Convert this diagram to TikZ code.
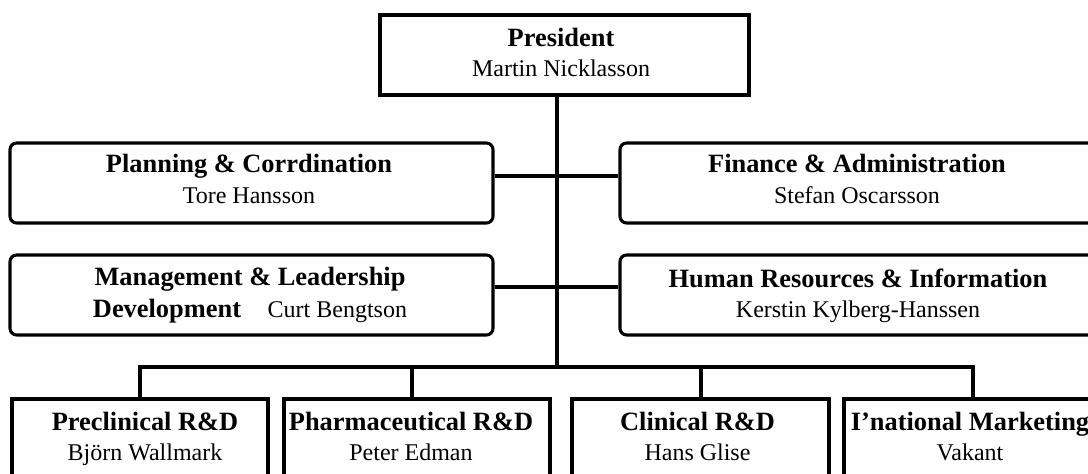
\documentclass[tikz,border=0pt]{standalone}
\usepackage{fontspec}
\setmainfont{Liberation Serif}
\usepackage{tikz}
\usetikzlibrary{fit}
\newcommand{\Head}[1]{{\fontsize{19.8}{22.5}\selectfont\bfseries #1}}
\tikzset{
  unit/.style={draw,line width=2.3pt,inner sep=0pt},
  runit/.style={unit,rounded corners=5pt},
  txt/.style={align=center,anchor=base,inner sep=0pt,font=\fontsize{18}{22.5}\selectfont},
  link/.style={line width=2.3pt}
}

\begin{document}
\begin{tikzpicture}[x=0.75pt,y=-0.75pt]
\useasboundingbox (0,0) rectangle (1088,474);
% boxes
\node[unit,fit={(380,15) (749,95)}] (pres) {};
\node[runit,fit={(10,143) (493,223)}] (plan) {};
\node[runit,fit={(10,255) (493,335)}] (mgmt) {};
\node[runit,fit={(620,143) (1110,223)}] (fin) {};
\node[runit,fit={(620,255) (1110,335)}] (hr) {};
\node[unit,fit={(12,399) (268,490)}] (pre) {};
\node[unit,fit={(284,399) (550,490)}] (pha) {};
\node[unit,fit={(572,399) (829,490)}] (cli) {};
\node[unit,fit={(844,399) (1110,490)}] (mkt) {};

% texts (anchored on the last line)
\node[txt] (pres-t) at (561,76.7) {\Head{President}\\Martin Nicklasson};
\node[txt] (plan-t) at (249,203) {\Head{Planning \& Corrdination}\\Tore Hansson};
\node[txt] (mgmt-t) at (250,317) {\Head{Management \& Leadership}\\[1.5pt]\Head{Development}\hspace{20pt}Curt Bengtson};
\node[txt] (fin-t) at (857,203) {\Head{Finance \& Administration}\\Stefan Oscarsson};
\node[txt] (hr-t) at (858,317) {\Head{Human Resources \& Information}\\Kerstin Kylberg-Hanssen};
\node[txt] (pre-t) at (145,460) {\Head{Preclinical R\&D}\\Björn Wallmark};
\node[txt] (pha-t) at (411,460) {\Head{Pharmaceutical R\&D}\\Peter Edman};
\node[txt] (cli-t) at (697.5,460) {\Head{Clinical R\&D}\\Hans Glise};
\node[txt] (mkt-t) at (970,460) {\Head{I'national Marketing}\\Vakant};

% connectors
\coordinate (spine) at (557,367);
\coordinate (row1) at (557,176);
\coordinate (row2) at (557,287);
\draw[link] (pres.south -| spine) -- (spine);
\draw[link] (plan.east |- row1) -- (fin.west |- row1);
\draw[link] (mgmt.east |- row2) -- (hr.west |- row2);
\foreach \b/\x in {pre/140,pha/412,cli/701,mkt/973}
  \coordinate (drop-\b) at (\x,367);
\draw[link] (drop-pre |- pre.north) -- (drop-pre) -- (drop-mkt) -- (drop-mkt |- mkt.north);
\foreach \b in {pha,cli}
  \draw[link] (drop-\b) -- (drop-\b |- \b.north);
\end{tikzpicture}
\end{document}
